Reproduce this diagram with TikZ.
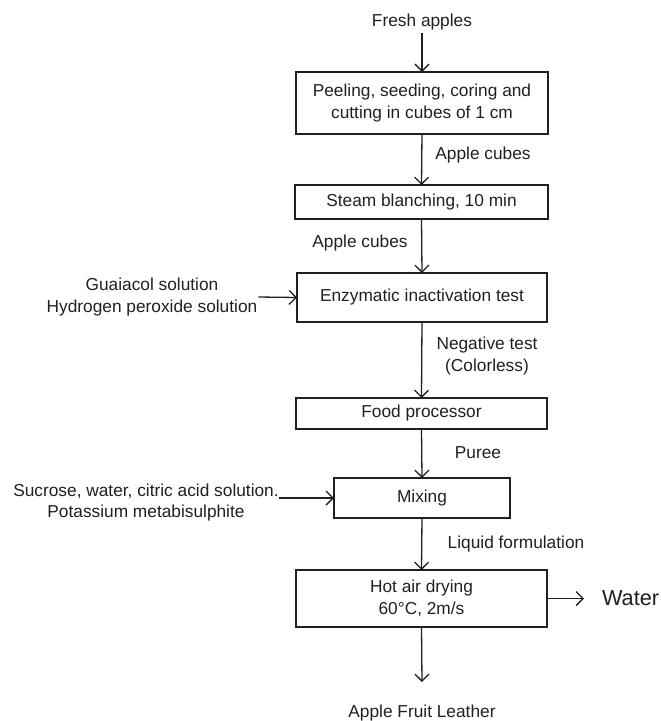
\documentclass[tikz,border=0pt]{standalone}
\usepackage{fontspec}
\setmainfont{Liberation Sans}
\usetikzlibrary{arrows.meta}
\definecolor{ink}{HTML}{231F20}
\begin{document}
\begin{tikzpicture}[x=1pt,y=-1pt,
  every node/.style={inner sep=0pt,outer sep=0pt,text=ink,font=\fontsize{17.3}{21.5}\selectfont,align=center},
  box/.style={draw=ink,line width=1.3pt,minimum width=252pt},
  lab/.style={},
  arr/.style={draw=ink,line width=1.3pt,-{Straight Barb[length=7pt,width=14pt,line width=1.3pt]}},
  ln/.style={draw=ink,line width=1.3pt}]
\useasboundingbox (0,0) rectangle (661,721);
\node (fresh) at (422,22) {Fresh apples};
\node[box,minimum height=62pt] (b1) at (422,103) {Peeling, seeding, coring and\\cutting in cubes of 1 cm};
\node (l1) at (483,155) {Apple cubes};
\node[box,minimum height=34pt,minimum width=253pt] (b2) at (421.5,202) {Steam blanching, 10 min};
\node (l2) at (360,243) {Apple cubes};
\node[box,minimum height=49pt,minimum width=250pt] (b3) at (422,297.5) {Enzymatic inactivation test};
\node (in1) at (152,297) {Guaiacol solution\\Hydrogen peroxide solution};
\node (l3) at (487,356) {Negative test\\(Colorless)};
\node[box,minimum height=31pt,minimum width=251pt] (b4) at (421.5,413.5) {Food processor};
\node (l4) at (478,453) {Puree};
\node[box,minimum height=40pt,minimum width=176pt] (b5) at (422,498) {Mixing};
\node (in2) at (146,502.5) {Sucrose, water, citric acid solution.\\Potassium metabisulphite};
\node (l5) at (516,544) {Liquid formulation};
\node[box,minimum height=57pt,minimum width=251pt] (b6) at (421.5,598.5) {Hot air drying\\60°C, 2m/s};
\node[anchor=west,font=\fontsize{21.7}{26}\selectfont] (water) at (602,598) {Water};
\coordinate (endp) at (422,682);
\node (out) at (422,713) {Apple Fruit Leather};
\draw[arr] (fresh.south |- 0,33) -- (b1.north);
\draw[arr] (b1.south) -- (b2.north);
\draw[arr] (b2.south) -- (b3.north);
\draw[arr] (in1.east) ++(1,0) -- (b3.west);
\draw[arr] (b3.south) -- (b4.north);
\draw[arr] (b4.south) -- (b5.north);
\draw[arr] (in2.east |- b5.west) -- (b5.west);
\draw[arr] (b5.south) -- (b6.north);
\draw[arr] (b6.east) -- ++(37,0) coordinate (wend);
\draw[arr] (b6.south) -- (endp);
\end{tikzpicture}
\end{document}
